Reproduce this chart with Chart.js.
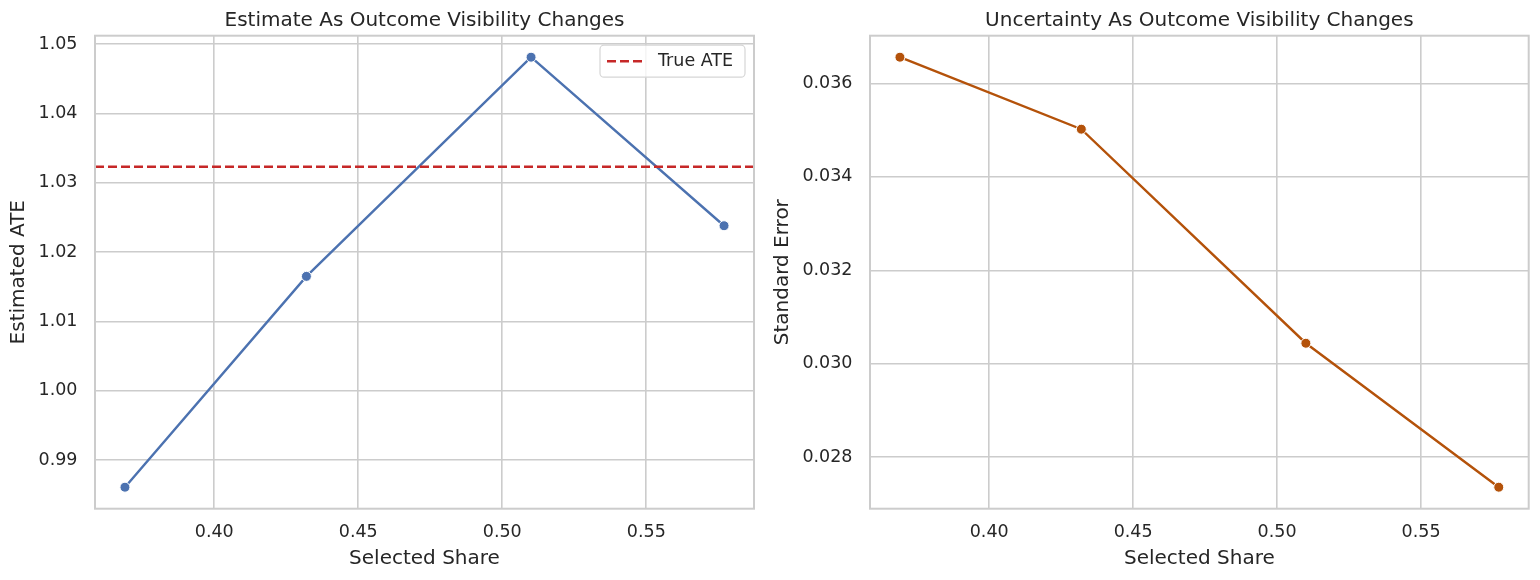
<!DOCTYPE html>
<html>
<head>
<meta charset="utf-8">
<script src="https://cdn.jsdelivr.net/npm/chart.js@4"></script>
<style>
  body { margin: 0; background: #fff; }
  .wrap { position: absolute; top: 0; width: 770px; height: 580px; }
</style>
</head>
<body>
<div class="wrap" style="left:0"><canvas class="chartAte" width="770" height="580"></canvas></div>
<div class="wrap" style="left:770px"><canvas class="chartSe" width="770" height="580"></canvas></div>
<script>
// values
const shares = [0.369, 0.432, 0.510, 0.577];
const estAte = [0.9861, 1.0165, 1.0481, 1.0238];
const stdErr = [0.03656, 0.03502, 0.03044, 0.02736];
const trueAte = 1.0323;

const shareTicks = [0.40, 0.45, 0.50, 0.55];
const ateTicks = [0.99, 1.00, 1.01, 1.02, 1.03, 1.04, 1.05];
const seTicks = [0.028, 0.030, 0.032, 0.034, 0.036];

const textColor = "#262626";
const gridColor = "#cccccc";
const family = "'DejaVu Sans', sans-serif";

// matplotlib style 5% margins around the data
function limits(vals) {
  var lo = Math.min.apply(null, vals), hi = Math.max.apply(null, vals);
  var m = (hi - lo) * 0.05;
  return { min: lo - m, max: hi + m };
}

function points(xs, ys) {
  return xs.map(function(x, i) { return { x: x, y: ys[i] }; });
}

// box round the plot, like the spines, and the title centred over the plot area
var framePlugin = {
  id: "frame",
  afterDraw: function(chart) {
    var a = chart.chartArea, ctx = chart.ctx;
    ctx.save();
    ctx.strokeStyle = gridColor;
    ctx.lineWidth = 2;
    ctx.strokeRect(a.left, a.top, a.right - a.left, a.bottom - a.top);
    var t = chart.options.plugins.frame.title;
    ctx.fillStyle = textColor;
    ctx.font = "20px " + family;
    ctx.textAlign = "center";
    ctx.textBaseline = "middle";
    ctx.fillText(t, (a.left + a.right) / 2, 20.5);
    ctx.restore();
  }
};

// dashed True ATE line and its legend
var trueLinePlugin = {
  id: "trueLine",
  afterDatasetsDraw: function(chart) {
    var a = chart.chartArea, ctx = chart.ctx;
    var y = chart.scales.y.getPixelForValue(trueAte);
    ctx.save();
    ctx.strokeStyle = "#c62828";
    ctx.lineWidth = 2.4;
    ctx.setLineDash([9, 4]);
    ctx.beginPath();
    ctx.moveTo(a.left, y);
    ctx.lineTo(a.right, y);
    ctx.stroke();
    ctx.restore();
  },
  afterDraw: function(chart) {
    var a = chart.chartArea, ctx = chart.ctx;
    var w = 145, h = 32;
    var bx = a.right - 9 - w, by = a.top + 9.5;
    ctx.save();
    ctx.fillStyle = "rgba(255,255,255,0.8)";
    ctx.strokeStyle = "#d6d6d6";
    ctx.lineWidth = 1.2;
    ctx.beginPath();
    ctx.roundRect(bx, by, w, h, 4);
    ctx.fill();
    ctx.stroke();
    ctx.strokeStyle = "#c62828";
    ctx.lineWidth = 2.4;
    ctx.setLineDash([9, 4]);
    ctx.beginPath();
    ctx.moveTo(bx + 7, by + h / 2);
    ctx.lineTo(bx + 44, by + h / 2);
    ctx.stroke();
    ctx.setLineDash([]);
    ctx.fillStyle = textColor;
    ctx.font = "17.5px " + family;
    ctx.textBaseline = "middle";
    ctx.fillText("True ATE", bx + 58, by + h / 2);
    ctx.restore();
  }
};

function makeOptions(title, yLabel, yTicks, yLim, yDigits, yTitlePad, padRight) {
  var xLim = limits(shares);
  return {
    responsive: false,
    animation: false,
    layout: { padding: { left: 0, right: padRight, top: 35.7, bottom: 0 } },
    plugins: {
      legend: { display: false },
      tooltip: { enabled: false },
      title: { display: false },
      frame: { title: title }
    },
    scales: {
      x: {
        type: "linear",
        min: xLim.min,
        max: xLim.max,
        afterBuildTicks: function(scale) {
          scale.ticks = shareTicks.map(function(v) { return { value: v }; });
        },
        afterFit: function(scale) { scale.height = 71.3; },
        grid: { color: gridColor, lineWidth: 1.6, drawTicks: false },
        border: { display: false },
        ticks: {
          color: textColor,
          padding: 13.5,
          maxRotation: 0,
          font: { family: family, size: 17.5 },
          callback: function(v) { return v.toFixed(2); }
        },
        title: {
          display: true,
          text: "Selected Share",
          color: textColor,
          font: { family: family, size: 20 },
          padding: { top: 3, bottom: 9.4 }
        }
      },
      y: {
        type: "linear",
        min: yLim.min,
        max: yLim.max,
        afterBuildTicks: function(scale) {
          scale.ticks = yTicks.map(function(v) { return { value: v }; });
        },
        afterFit: function(scale) { scale.width = 95 + (padRight < 14 ? 5 : 0); },
        grid: { color: gridColor, lineWidth: 1.6, drawTicks: false },
        border: { display: false },
        ticks: {
          color: textColor,
          padding: 17.5,
          font: { family: family, size: 17.5 },
          callback: function(v) { return v.toFixed(yDigits); }
        },
        title: {
          display: true,
          text: yLabel,
          color: textColor,
          font: { family: family, size: 20 },
          padding: { top: yTitlePad, bottom: 0 }
        }
      }
    }
  };
}

var ctxAte = document.querySelector(".chartAte").getContext("2d");
var chartAte = new Chart(ctxAte, {
  type: "line",
  data: {
    datasets: [{
      label: "Estimated ATE",
      data: points(shares, estAte),
      borderColor: "#4c72b0",
      backgroundColor: "#4c72b0",
      borderWidth: 2.4,
      pointRadius: 5,
      pointBorderColor: "#ffffff",
      pointBorderWidth: 1,
      pointBackgroundColor: "#4c72b0",
      tension: 0
    }]
  },
  options: makeOptions("Estimate As Outcome Visibility Changes", "Estimated ATE",
    ateTicks, limits(estAte.concat([trueAte])), 2, 7, 16),
  plugins: [trueLinePlugin, framePlugin]
});

var ctxSe = document.querySelector(".chartSe").getContext("2d");
var chartSe = new Chart(ctxSe, {
  type: "line",
  data: {
    datasets: [{
      label: "Standard Error",
      data: points(shares, stdErr),
      borderColor: "#b4520a",
      backgroundColor: "#b4520a",
      borderWidth: 2.4,
      pointRadius: 5,
      pointBorderColor: "#ffffff",
      pointBorderWidth: 1,
      pointBackgroundColor: "#b4520a",
      tension: 0
    }]
  },
  options: makeOptions("Uncertainty As Outcome Visibility Changes", "Standard Error",
    seTicks, limits(stdErr), 3, 1, 11.3),
  plugins: [framePlugin]
});
</script>
</body>
</html>
